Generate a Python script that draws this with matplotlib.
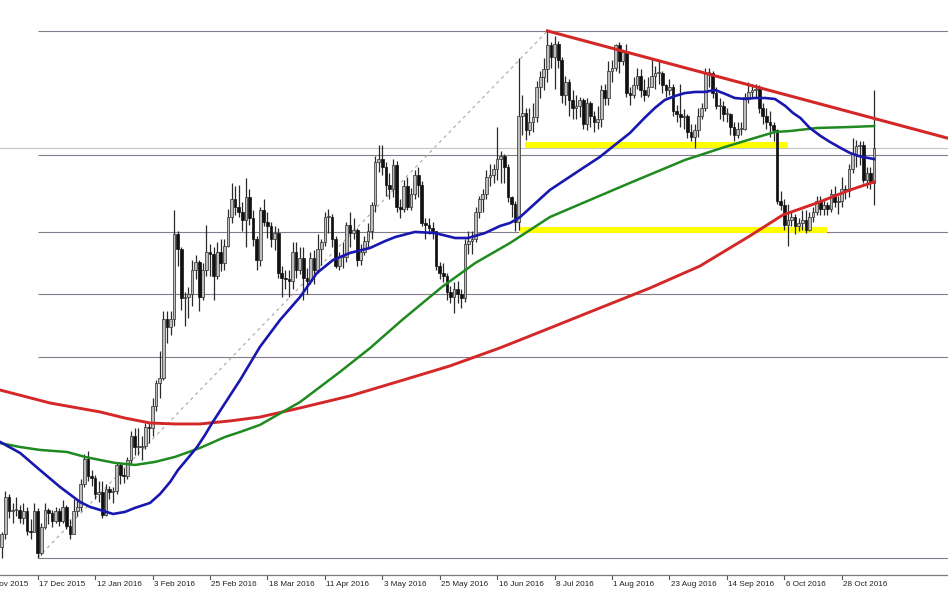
import matplotlib
matplotlib.use("Agg")
import matplotlib.pyplot as plt

# ---------------- data (daily XAUUSD-like candles, bar index 6..249) ----------------
first_bar = 6
opens = [1053, 1061, 1084, 1075, 1076, 1076, 1071, 1075, 1063, 1062,
         1075, 1049, 1065, 1076, 1074, 1069, 1075, 1069, 1078, 1066,
         1061, 1075, 1078, 1092, 1108, 1097, 1096, 1086, 1087, 1073,
         1089, 1087, 1088, 1104, 1098, 1097, 1107, 1122, 1115, 1115,
         1116, 1128, 1127, 1141, 1155, 1158, 1195, 1190, 1195, 1248,
         1239, 1208, 1209, 1211, 1226, 1231, 1209, 1226, 1237, 1236,
         1222, 1237, 1230, 1241, 1259, 1270, 1265, 1262, 1257, 1271,
         1258, 1245, 1232, 1263, 1256, 1253, 1245, 1249, 1224, 1221,
         1220, 1219, 1237, 1226, 1233, 1221, 1219, 1233, 1226, 1239,
         1243, 1259, 1259, 1245, 1228, 1234, 1234, 1254, 1249, 1251,
         1232, 1237, 1244, 1250, 1266, 1293, 1295, 1290, 1279, 1276,
         1291, 1265, 1264, 1278, 1265, 1273, 1285, 1279, 1255, 1254,
         1252, 1250, 1228, 1224, 1222, 1212, 1209, 1214, 1211, 1208,
         1242, 1244, 1245, 1262, 1270, 1273, 1284, 1285, 1289, 1295,
         1297, 1290, 1271, 1267, 1256, 1322, 1324, 1313, 1318, 1321,
         1340, 1346, 1351, 1366, 1359, 1367, 1357, 1335, 1343, 1332,
         1327, 1328, 1332, 1317, 1330, 1322, 1318, 1320, 1338, 1333,
         1350, 1352, 1366, 1356, 1362, 1336, 1335, 1341, 1347, 1338,
         1335, 1340, 1347, 1349, 1349, 1341, 1338, 1340, 1325, 1323,
         1321, 1322, 1312, 1309, 1313, 1322, 1327, 1349, 1349, 1336,
         1328, 1328, 1323, 1323, 1315, 1310, 1314, 1314, 1334, 1337,
         1338, 1339, 1327, 1322, 1318, 1316, 1313, 1269, 1266, 1254,
         1257, 1259, 1253, 1255, 1257, 1251, 1259, 1262, 1269, 1264,
         1266, 1264, 1273, 1268, 1269, 1276, 1275, 1289, 1298, 1303,
         1304, 1282, 1286, 1280]
closes = [1061, 1084, 1075, 1076, 1076, 1071, 1075, 1063, 1062, 1075,
          1049, 1065, 1076, 1074, 1069, 1075, 1069, 1078, 1066, 1061,
          1075, 1078, 1092, 1108, 1097, 1096, 1086, 1087, 1073, 1089,
          1087, 1088, 1104, 1098, 1097, 1107, 1122, 1115, 1115, 1116,
          1128, 1127, 1141, 1155, 1158, 1195, 1190, 1195, 1248, 1239,
          1208, 1209, 1211, 1226, 1231, 1209, 1226, 1237, 1236, 1222,
          1237, 1230, 1241, 1259, 1270, 1265, 1262, 1257, 1271, 1258,
          1245, 1232, 1263, 1256, 1253, 1245, 1249, 1224, 1221, 1220,
          1219, 1237, 1226, 1233, 1221, 1219, 1233, 1226, 1239, 1243,
          1259, 1259, 1245, 1228, 1234, 1234, 1254, 1249, 1251, 1232,
          1237, 1244, 1250, 1266, 1293, 1295, 1290, 1279, 1276, 1291,
          1265, 1264, 1278, 1265, 1273, 1285, 1279, 1255, 1254, 1252,
          1250, 1228, 1224, 1222, 1212, 1209, 1214, 1211, 1208, 1242,
          1244, 1245, 1262, 1270, 1273, 1284, 1285, 1289, 1295, 1297,
          1290, 1271, 1267, 1256, 1322, 1324, 1313, 1318, 1321, 1340,
          1346, 1351, 1366, 1359, 1367, 1357, 1335, 1343, 1332, 1327,
          1328, 1332, 1317, 1330, 1322, 1318, 1320, 1338, 1333, 1350,
          1352, 1366, 1356, 1362, 1336, 1335, 1341, 1347, 1338, 1335,
          1340, 1347, 1349, 1349, 1341, 1338, 1340, 1325, 1323, 1321,
          1322, 1312, 1309, 1313, 1322, 1327, 1349, 1349, 1336, 1328,
          1328, 1323, 1323, 1315, 1310, 1314, 1314, 1334, 1337, 1338,
          1339, 1327, 1322, 1318, 1316, 1313, 1269, 1266, 1254, 1257,
          1259, 1253, 1255, 1257, 1251, 1259, 1262, 1269, 1264, 1266,
          1264, 1273, 1268, 1269, 1276, 1275, 1289, 1298, 1303, 1304,
          1282, 1286, 1280, 1302]
highs = [1062, 1088, 1086, 1080, 1084, 1079, 1080, 1078, 1070, 1080,
         1077, 1068, 1080, 1077, 1076, 1078, 1077, 1082, 1079, 1070,
         1083, 1082, 1095, 1111, 1113, 1101, 1098, 1094, 1094, 1092,
         1091, 1090, 1106, 1105, 1102, 1109, 1125, 1127, 1127, 1122,
         1130, 1131, 1146, 1157, 1175, 1200, 1200, 1200, 1263, 1250,
         1240, 1212, 1215, 1232, 1235, 1232, 1230, 1254, 1242, 1240,
         1243, 1245, 1245, 1264, 1280, 1278, 1279, 1268, 1283, 1276,
         1263, 1247, 1265, 1270, 1262, 1256, 1253, 1252, 1228, 1226,
         1226, 1243, 1243, 1240, 1240, 1227, 1237, 1238, 1248, 1245,
         1262, 1264, 1261, 1247, 1237, 1243, 1256, 1262, 1258, 1252,
         1242, 1247, 1255, 1268, 1297, 1304, 1304, 1293, 1286, 1295,
         1294, 1270, 1282, 1284, 1277, 1288, 1290, 1281, 1258, 1258,
         1256, 1250, 1231, 1230, 1224, 1216, 1218, 1219, 1214, 1245,
         1250, 1250, 1265, 1272, 1276, 1288, 1292, 1292, 1315, 1300,
         1298, 1292, 1272, 1269, 1358, 1335, 1327, 1327, 1330, 1344,
         1350, 1358, 1375, 1368, 1372, 1369, 1359, 1347, 1345, 1338,
         1335, 1334, 1333, 1333, 1331, 1325, 1328, 1341, 1342, 1356,
         1357, 1367, 1368, 1363, 1367, 1340, 1346, 1352, 1351, 1345,
         1346, 1358, 1353, 1357, 1350, 1342, 1345, 1342, 1329, 1342,
         1326, 1323, 1317, 1317, 1327, 1330, 1352, 1352, 1350, 1340,
         1333, 1331, 1327, 1324, 1318, 1318, 1318, 1336, 1343, 1342,
         1342, 1341, 1330, 1327, 1325, 1318, 1314, 1275, 1270, 1267,
         1262, 1261, 1258, 1263, 1263, 1262, 1265, 1272, 1272, 1270,
         1268, 1276, 1278, 1272, 1284, 1279, 1292, 1308, 1307, 1306,
         1306, 1290, 1290, 1338]
lows = [1046, 1058, 1071, 1068, 1072, 1068, 1067, 1060, 1058, 1062,
        1046, 1048, 1064, 1067, 1065, 1068, 1066, 1068, 1064, 1058,
        1061, 1072, 1075, 1090, 1094, 1091, 1083, 1081, 1071, 1072,
        1083, 1080, 1086, 1092, 1093, 1095, 1104, 1110, 1110, 1107,
        1114, 1118, 1122, 1138, 1146, 1157, 1180, 1185, 1191, 1228,
        1201, 1191, 1196, 1203, 1220, 1200, 1207, 1222, 1222, 1207,
        1220, 1225, 1226, 1240, 1255, 1260, 1259, 1250, 1240, 1254,
        1241, 1226, 1228, 1253, 1246, 1240, 1238, 1221, 1209, 1214,
        1209, 1214, 1221, 1223, 1207, 1211, 1217, 1217, 1224, 1229,
        1241, 1249, 1240, 1227, 1226, 1227, 1231, 1240, 1245, 1228,
        1229, 1235, 1239, 1245, 1262, 1287, 1285, 1272, 1270, 1271,
        1262, 1258, 1262, 1263, 1263, 1270, 1271, 1253, 1245, 1248,
        1245, 1226, 1220, 1218, 1207, 1205, 1199, 1205, 1202, 1206,
        1236, 1236, 1243, 1258, 1262, 1270, 1278, 1280, 1282, 1280,
        1280, 1268, 1259, 1250, 1251, 1310, 1307, 1310, 1312, 1318,
        1333, 1338, 1343, 1352, 1339, 1352, 1330, 1329, 1322, 1320,
        1320, 1321, 1314, 1313, 1315, 1312, 1314, 1315, 1329, 1329,
        1343, 1350, 1349, 1354, 1334, 1329, 1333, 1339, 1334, 1331,
        1334, 1340, 1339, 1342, 1336, 1334, 1335, 1322, 1318, 1315,
        1314, 1308, 1306, 1302, 1309, 1320, 1325, 1340, 1333, 1326,
        1320, 1319, 1318, 1310, 1306, 1308, 1310, 1313, 1330, 1334,
        1333, 1324, 1317, 1314, 1309, 1306, 1267, 1263, 1251, 1241,
        1253, 1248, 1250, 1251, 1249, 1250, 1256, 1260, 1260, 1260,
        1260, 1262, 1265, 1261, 1265, 1270, 1271, 1286, 1290, 1291,
        1280, 1277, 1276, 1266]

# moving averages (bar index, price)
ma_fast_x = [5.5, 11.1, 16.6, 22.2, 27.8, 30.6, 33.4, 37.0, 40.3, 43.1, 47.3, 50.1,
             52.9, 55.1, 57.9, 60.4, 62.6, 64.6, 72.4, 77.9, 83.5, 89.1, 93.8, 98.3,
             103.0, 108.6, 112.8, 115.6, 121.1, 126.7, 132.3, 135.9, 140.6, 144.8,
             147.6, 150.4, 158.7, 167.1, 172.6, 181.0, 185.2, 188.0, 190.7, 193.6,
             196.3, 199.2, 201.9, 204.7, 207.6, 210.2, 213.2, 215.8, 218.7, 221.4,
             224.3, 226.4, 228.5, 231.1, 234.1, 236.7, 239.7, 242.3, 244.7, 245.9,
             249.0]
ma_fast_y = [1118.4, 1111.5, 1100.9, 1090.3, 1080.9, 1077.8, 1075.9, 1073.4, 1074.7,
             1077.2, 1080.3, 1085.9, 1093.4, 1100.9, 1108.4, 1115.2, 1122.7, 1130.2,
             1157.1, 1177.7, 1194.5, 1208.9, 1223.9, 1232.0, 1236.4, 1239.5, 1243.8,
             1246.3, 1249.5, 1248.8, 1245.7, 1245.7, 1248.8, 1253.2, 1255.1, 1258.8,
             1275.7, 1288.2, 1296.3, 1311.3, 1321.0, 1327.0, 1331.9, 1334.4, 1336.2,
             1336.9, 1336.9, 1338.1, 1335.6, 1333.1, 1332.5, 1333.1, 1333.1, 1332.5,
             1328.1, 1323.8, 1320.6, 1314.4, 1309.4, 1305.7, 1301.9, 1298.8, 1296.9,
             1296.3, 1295.0]
ma_mid_x = [5.5, 11.1, 16.6, 24.2, 29.2, 33.4, 37.5, 43.1, 48.7, 54.2, 61.2, 68.2,
            72.4, 77.9, 89.1, 100.2, 108.6, 117.5, 128.6, 137.9, 147.6, 158.7, 167.9,
            181.0, 196.3, 207.4, 215.8, 221.4, 225.6, 233.1, 242.3, 249.0]
ma_mid_y = [1117.7, 1115.2, 1113.4, 1112.1, 1109.0, 1107.1, 1105.3, 1104.0, 1105.9,
            1109.0, 1114.6, 1121.5, 1124.6, 1129.0, 1143.3, 1162.1, 1177.0, 1194.5,
            1215.1, 1230.1, 1242.6, 1258.8, 1267.6, 1280.1, 1294.4, 1302.5, 1308.2,
            1311.9, 1312.5, 1314.4, 1315.0, 1315.6]
ma_slow_x = [5.5, 19.4, 33.4, 40.3, 47.3, 54.2, 61.2, 69.6, 77.9, 89.1, 103.0, 116.9,
             130.8, 144.8, 158.7, 172.6, 186.6, 200.5, 214.4, 223.6, 233.1, 242.3,
             249.0]
ma_slow_y = [1150.8, 1142.7, 1137.1, 1133.3, 1130.2, 1129.6, 1129.6, 1131.5, 1133.9,
             1139.6, 1147.1, 1156.4, 1165.8, 1177.1, 1189.5, 1202.0, 1214.5, 1228.2,
             1247.0, 1260.1, 1267.6, 1275.7, 1280.7]

# date labels every 16 bars
tick_bars = [0, 16, 32, 48, 64, 80, 96, 112, 128, 144, 160, 176, 192, 208, 224, 240]
tick_labels = ["25 Nov 2015", "17 Dec 2015", "12 Jan 2016", "3 Feb 2016", "25 Feb 2016",
               "18 Mar 2016", "11 Apr 2016", "3 May 2016", "25 May 2016", "16 Jun 2016",
               "8 Jul 2016", "1 Aug 2016", "23 Aug 2016", "14 Sep 2016", "6 Oct 2016",
               "28 Oct 2016"]

# drawn objects
fib_bar = [16, 158]
fib_price = [1046, 1375]
fib_ratios = [0.0, 0.236, 0.382, 0.5, 0.618, 1.0]
trend_bar = [158, 269.6]
trend_price = [1375, 1308]
zone_start = [151.7, 150.0]
zone_end = [225.0, 235.8]
zone_price = [1304, 1250.5]

XMIN, XMAX = 5.5, 269.6
YMIN, YMAX = 1035.3, 1394.3

# ---------------- drawing ----------------
fig = plt.figure(figsize=(9.48, 5.93), dpi=100)
fig.patch.set_facecolor("white")
ax = fig.add_axes([0, 18 / 593, 1, 575 / 593])
ax.set_xlim(XMIN, XMAX)
ax.set_ylim(YMIN, YMAX)
for s in ("top", "left", "right"):
    ax.spines[s].set_visible(False)
ax.spines["bottom"].set_color("#7a7a7a")
ax.spines["bottom"].set_linewidth(0.9)
ax.set_xticks([])
ax.set_yticks([])

# fibonacci levels
hi, lo = fib_price[1], fib_price[0]
levels = [hi - r * (hi - lo) for r in fib_ratios]
ax.hlines(levels, fib_bar[0], XMAX, color="#857b8f", lw=0.8, zorder=1)
ax.plot(fib_bar, fib_price, color="#b5acac", lw=0.9, ls=(0, (2.5, 3)), zorder=1)

# bid line
ax.axhline(closes[-1], color="#c4c4c4", lw=0.8, zorder=1)

# yellow zones
for xs, xe, p in zip(zone_start, zone_end, zone_price):
    ax.plot([xs, xe], [p, p], color="#ffff00", lw=4.3, solid_capstyle="butt", zorder=2)

# candles
n = len(closes)
xs = list(range(first_bar, first_bar + n))
ax.vlines(xs, lows, highs, color="#2a2a2a", lw=0.9, zorder=3)
bx, bh, bb = [], [], []
rx, rh, rb = [], [], []
for x, o, c in zip(xs, opens, closes):
    if c >= o:
        bx.append(x); bb.append(o); bh.append(max(c - o, 0.6))
    else:
        rx.append(x); rb.append(c); rh.append(max(o - c, 0.6))
ax.bar(bx, bh, bottom=bb, width=0.75, color="#bdbdbd", edgecolor="#2a2a2a", lw=0.5, zorder=4)
ax.bar(rx, rh, bottom=rb, width=0.75, color="#111111", edgecolor="#111111", lw=0.5, zorder=4)

# moving averages
ax.plot(ma_slow_x, ma_slow_y, color="#d42828", lw=2.1, zorder=5, solid_joinstyle="round")
ax.plot(ma_mid_x, ma_mid_y, color="#1f8a1f", lw=1.8, zorder=5, solid_joinstyle="round")
ax.plot(ma_fast_x, ma_fast_y, color="#1818b0", lw=1.9, zorder=5, solid_joinstyle="round")

# trend line
ax.plot(trend_bar, trend_price, color="#d42828", lw=2.2, zorder=6)

# date axis
tr = ax.get_xaxis_transform()
for b, lab in zip(tick_bars, tick_labels):
    ax.plot([b, b], [0, -4 / 575], transform=tr, color="#555555", lw=0.8, clip_on=False)
    ax.text(b + 0.4, -10 / 575, lab, transform=tr, ha="left", va="center",
            fontsize=5.9, family="Liberation Sans", color="#222222", clip_on=False)

fig.savefig("out.png", dpi=100)
